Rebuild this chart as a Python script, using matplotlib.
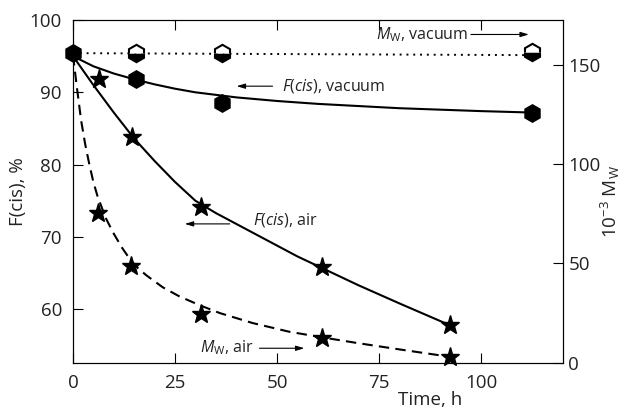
import matplotlib
matplotlib.use("Agg")
import matplotlib.pyplot as plt

plt.rcParams["font.family"] = ["Open Sans", "DejaVu Sans"]
plt.rcParams["mathtext.fontset"] = "custom"
plt.rcParams["mathtext.rm"] = "Open Sans"
plt.rcParams["mathtext.it"] = "Open Sans:italic"

TXT = "#222222"

# measured points
t_fcis_vac = [0, 15.4, 36.4, 112.5]
fcis_vac = [95.4, 91.8, 88.5, 87.1]

t_mw_vac = [15.4, 36.4, 112.5]
mw_vac = [156, 156, 156.5]

t_fcis_air = [6.3, 14.4, 31.3, 61, 92.3]
fcis_air = [91.8, 83.8, 74.2, 65.8, 57.8]

t_mw_air = [6.2, 14.3, 31.3, 61, 92.3]
mw_air = [75.4, 48.7, 24.3, 12.6, 3]

# fitted curves
tc_fcis_vac = [0, 5, 10, 15, 20, 25, 30, 40, 50, 60, 70, 80, 90, 100, 112.5]
c_fcis_vac = [95.0, 93.6, 92.6, 91.8, 91.1, 90.5, 90.0, 89.3, 88.8, 88.4,
              88.1, 87.8, 87.6, 87.4, 87.2]

tc_fcis_air = [0, 5, 10, 15, 20, 25, 30, 35, 40, 45, 50, 55, 61, 70, 80, 92.3]
c_fcis_air = [95.0, 91.0, 87.2, 83.6, 80.5, 77.6, 75.0, 73.3, 71.8, 70.3,
              68.8, 67.3, 65.7, 63.3, 60.8, 57.8]

tc_mw_vac = [0, 112.5]
c_mw_vac = [156, 155]

tc_mw_air = [0, 1, 2, 3, 4, 5, 6, 8, 10, 12, 14, 16, 18, 22, 26, 31, 36,
             44, 53, 61, 70, 80, 92.3]
c_mw_air = [155, 138, 122, 110, 100, 91, 84, 73, 65, 58, 52, 47.5, 44, 38,
            33.5, 29, 25, 20, 15.6, 12.8, 9.8, 6.7, 3]

fig = plt.figure(figsize=(6.26, 4.11), dpi=100)
ax = fig.add_axes([0.1166, 0.1175, 0.7823, 0.8338])
ax2 = ax.twinx()

ax.plot(tc_fcis_vac, c_fcis_vac, color="black", lw=1.5, zorder=3)
ax.plot(tc_fcis_air, c_fcis_air, color="black", lw=1.5, zorder=3)
ax2.plot(tc_mw_vac, c_mw_vac, color="black", lw=1.4, ls=(0, (1, 2.5)), zorder=3)
ax2.plot(tc_mw_air, c_mw_air, color="black", lw=1.5, ls=(0, (5, 3)), zorder=3)

ax2.plot(t_mw_vac, mw_vac, ls="none", marker="h", ms=12.5, mew=1.5,
         mec="black", mfc="black", mfcalt="white", fillstyle="bottom",
         zorder=4, clip_on=False)
ax2.plot(t_mw_air, mw_air, ls="none", marker="*", ms=14, color="black",
         zorder=4, clip_on=False)
ax.plot(t_fcis_air, fcis_air, ls="none", marker="*", ms=14, color="black",
        zorder=4, clip_on=False)
ax.plot(t_fcis_vac, fcis_vac, ls="none", marker="h", ms=12.5, color="black",
        zorder=5, clip_on=False)
ax.set_zorder(ax2.get_zorder() + 1)
ax.patch.set_visible(False)

ax.set_xlim(0, 120)
ax.set_ylim(52.6, 100)
ax2.set_ylim(0, 172.7)
ax.set_xticks([0, 25, 50, 75, 100])
ax.set_yticks([60, 70, 80, 90, 100])
ax2.set_yticks([0, 50, 100, 150])

fs_tick = 13.5
for a in (ax, ax2):
    for s in a.spines.values():
        s.set_linewidth(0.8)
ax.tick_params(axis="x", direction="in", length=7, width=0.8, pad=8,
               top=True, labelsize=fs_tick, labelcolor=TXT)
ax.tick_params(axis="y", direction="in", length=7, width=0.8, pad=8,
               labelsize=fs_tick, labelcolor=TXT)
ax2.tick_params(axis="y", direction="in", length=7, width=0.8, pad=4,
                labelsize=fs_tick, labelcolor=TXT)

ax.set_ylabel("F(cis), %", fontsize=fs_tick, color=TXT)
ax.yaxis.set_label_coords(-0.094, 0.5)
ax2.set_ylabel(r"10$^{-3}$ M$_{\mathrm{W}}$", fontsize=fs_tick, color=TXT)
ax2.yaxis.set_label_coords(1.074, 0.47)
ax.set_xlabel("Time, h", fontsize=fs_tick, color=TXT)
ax.xaxis.set_label_coords(0.729, -0.084)

arrow = dict(arrowstyle="-|>,head_length=0.5,head_width=0.15", color="black",
             lw=0.8, shrinkA=0, shrinkB=0)
fs = 11.5

ax.text(74.3, 98.0, r"$M_{\mathrm{W}}$, vacuum", fontsize=fs, color=TXT,
        va="center", ha="left")
ax.annotate("", xy=(111.7, 98.0), xytext=(97.5, 98.0), arrowprops=arrow)

ax.text(51.3, 90.85, r"$F$($cis$), vacuum", fontsize=fs, color=TXT,
        va="center", ha="left")
ax.annotate("", xy=(40.1, 90.85), xytext=(48.9, 90.85), arrowprops=arrow)

ax.text(44.0, 72.4, r"$F$($cis$), air", fontsize=fs, color=TXT,
        va="center", ha="left")
ax.annotate("", xy=(27.4, 71.8), xytext=(38.4, 71.8), arrowprops=arrow)

ax.text(31.0, 54.7, r"$M_{\mathrm{W}}$, air", fontsize=fs, color=TXT,
        va="center", ha="left")
ax.annotate("", xy=(56.7, 54.6), xytext=(45.7, 54.6), arrowprops=arrow)

fig.savefig("out.png", dpi=100)
